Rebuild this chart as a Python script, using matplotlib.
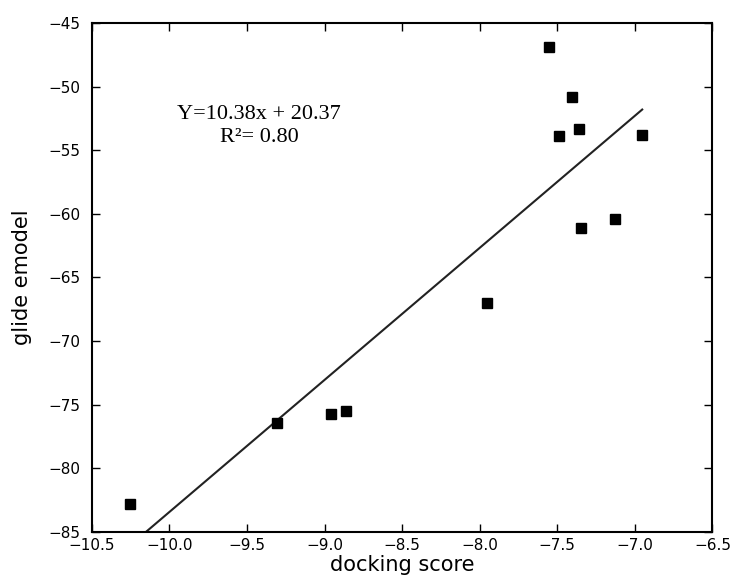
import numpy as np
import matplotlib
matplotlib.use('Agg')
import matplotlib.pyplot as plt

# docking score vs glide emodel
score = [-10.255, -9.304, -8.960, -8.861, -7.955, -7.556, -7.487,
         -7.403, -7.358, -7.349, -7.130, -6.953]
emodel = [-82.8, -76.4, -75.7, -75.5, -67.0, -46.9, -53.9,
          -50.8, -53.3, -61.1, -60.4, -53.8]
slope = 10.38
intercept = 20.37
eq_text = 'Y=10.38x + 20.37\nR\u00b2= 0.80'


def draw():
    fig = plt.figure(figsize=(7.34, 5.85), dpi=100)
    ax = fig.add_axes([0.125, 0.0906, 0.8457, 0.8701])

    ax.plot(score, emodel, 's', color='k', markersize=7.5, zorder=3)
    xs = np.array([min(score), max(score)])
    ax.plot(xs, slope * xs + intercept, '-', color='#222222', lw=1.5)

    ax.text(-9.42, -53.1, eq_text, family='Liberation Serif', fontsize=16,
            ha='center', va='center', linespacing=1.25)

    ax.set_xlim(-10.5, -6.5)
    ax.set_ylim(-85, -45)
    ax.set_xticks(np.arange(-10.5, -6.4, 0.5))
    ax.set_yticks(np.arange(-85, -44, 5))
    ax.tick_params(direction='in', length=6, width=1, top=True, right=True,
                   labelsize=11)
    ax.tick_params(axis='x', pad=4)
    ax.tick_params(axis='y', pad=8)
    for s in ax.spines.values():
        s.set_linewidth(1.5)

    ax.set_xlabel('docking score', fontsize=15, labelpad=2)
    ax.set_ylabel('glide emodel', fontsize=15, labelpad=12)

    fig.savefig('out.png', dpi=100)


if __name__ == '__main__':
    draw()
